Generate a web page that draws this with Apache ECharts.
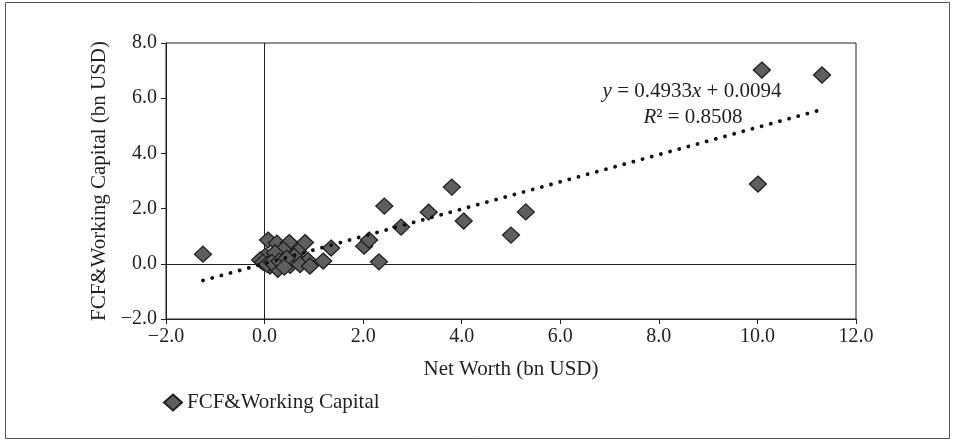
<!DOCTYPE html>
<html>
<head>
<meta charset="utf-8">
<script src="https://cdn.jsdelivr.net/npm/echarts@6/dist/echarts.min.js"></script>
<style>
html,body{margin:0;padding:0;background:#fff;}
#chart{width:956px;height:441px;}
</style>
</head>
<body>
<div id="chart"></div>
<script>
// Data
const netWorth = [-1.25, 0.07, 0.25, 0.50, 0.82, 0.38, 0.68, 0.60, 0.88, 1.19,
  1.35, 0.02, 0.17, -0.09, 0.35, 0.11, 0.52, 0.72, 0.27, 0.92,
  0.21, -0.03, 0.05, 0.15, 0.30, 0.45, 0.40, 2.02, 2.12, 2.32,
  2.43, 2.77, 3.33, 3.80, 4.04, 5.00, 5.30, 10.01, 10.09, 11.31];
const fcfWorkingCapital = [0.35, 0.86, 0.75, 0.77, 0.77, 0.52, 0.45, 0.27, 0.12, 0.10,
  0.57, 0.28, 0.14, 0.14, -0.04, -0.08, -0.06, -0.03, -0.20, -0.08,
  0.40, 0.05, -0.02, 0.05, 0.10, 0.20, -0.12, 0.64, 0.86, 0.07,
  2.09, 1.33, 1.87, 2.78, 1.55, 1.04, 1.88, 2.89, 7.02, 6.84];
const seriesName = 'FCF&Working Capital';
const xTitle = 'Net Worth (bn USD)';
const yTitle = 'FCF&Working Capital (bn USD)';
const trendSlope = 0.4933;
const trendIntercept = 0.0094;
const rSquared = '0.8508';
const xRange = [-2, 12];
const yRange = [-2, 8];
const tickStep = 2;

const ink = '#231f20';
const serif = '"Liberation Serif","DejaVu Serif",serif';
const fmt = v => (v < 0 ? '\u2212' : '') + Math.abs(v).toFixed(1);

const points = netWorth.map((x, i) => [x, fcfWorkingCapital[i]]);
const xMin = Math.min(...netWorth), xMax = Math.max(...netWorth);
const trend = [xMin, xMax].map(x => [x, trendSlope * x + trendIntercept]);

const chart = echarts.init(document.getElementById('chart'), null, {renderer: 'canvas'});
chart.setOption({
  animation: false,
  backgroundColor: '#fff',
  grid: {left: 166, right: 100, top: 43, bottom: 122, show: true, borderColor: ink, borderWidth: 1, backgroundColor: 'transparent'},
  xAxis: {
    type: 'value', min: xRange[0], max: xRange[1], interval: tickStep,
    name: xTitle, nameLocation: 'middle', nameGap: 40,
    nameTextStyle: {fontFamily: serif, fontSize: 21, color: ink},
    axisLine: {show: true, onZero: false, lineStyle: {color: ink, width: 1}},
    axisTick: {show: true, inside: false, length: 5, lineStyle: {color: ink}},
    axisLabel: {formatter: fmt, fontFamily: serif, fontSize: 20, color: ink, margin: 8},
    splitLine: {show: false}
  },
  yAxis: {
    type: 'value', min: yRange[0], max: yRange[1], interval: tickStep,
    name: yTitle, nameLocation: 'middle', nameGap: 50, nameRotate: 90,
    nameTextStyle: {fontFamily: serif, fontSize: 21, color: ink},
    axisLine: {show: true, onZero: false, lineStyle: {color: ink, width: 1}},
    axisTick: {show: true, inside: false, length: 5, lineStyle: {color: ink}},
    axisLabel: {formatter: fmt, fontFamily: serif, fontSize: 20, color: ink, margin: 9},
    splitLine: {show: false}
  },
  legend: {
    data: [seriesName], left: 158, top: 387, icon: 'diamond',
    itemWidth: 18, itemHeight: 16, itemGap: 6,
    textStyle: {fontFamily: serif, fontSize: 21, color: ink}
  },
  series: [
    {
      name: seriesName, type: 'scatter', data: points, z: 2,
      symbol: 'diamond', symbolSize: [17, 16],
      itemStyle: {color: '#5e5e5e', borderColor: ink, borderWidth: 1.3, opacity: 1},
      markLine: {
        silent: true, symbol: 'none', label: {show: false},
        lineStyle: {color: ink, type: 'solid', width: 1},
        data: [{xAxis: 0}, {yAxis: 0}],
        z: 1
      }
    },
    {
      name: 'trend', type: 'line', data: trend, z: 3, symbol: 'none',
      lineStyle: {color: '#111', width: 3.8, type: [0.1, 9.4], cap: 'round'},
      silent: true
    }
  ],
  graphic: [
    {type: 'rect', shape: {x: 5.5, y: 2.5, width: 944, height: 436}, style: {fill: 'none', stroke: '#555', lineWidth: 1}, silent: true, z: 0},
    {type: 'text', x: 692, y: 91, style: {
      text: '{i|y} = ' + trendSlope.toFixed(4) + '{i|x} + ' + trendIntercept.toFixed(4),
      font: '21px ' + serif, fill: ink, align: 'center', verticalAlign: 'middle',
      rich: {i: {fontStyle: 'italic', fontFamily: serif, fontSize: 21, fill: ink, color: ink}}
    }, z: 10},
    {type: 'text', x: 693, y: 117, style: {
      text: '{i|R}\u00b2 = ' + rSquared,
      font: '21px ' + serif, fill: ink, align: 'center', verticalAlign: 'middle',
      rich: {i: {fontStyle: 'italic', fontFamily: serif, fontSize: 21, fill: ink, color: ink}}
    }, z: 10}
  ]
});
</script>
</body>
</html>
